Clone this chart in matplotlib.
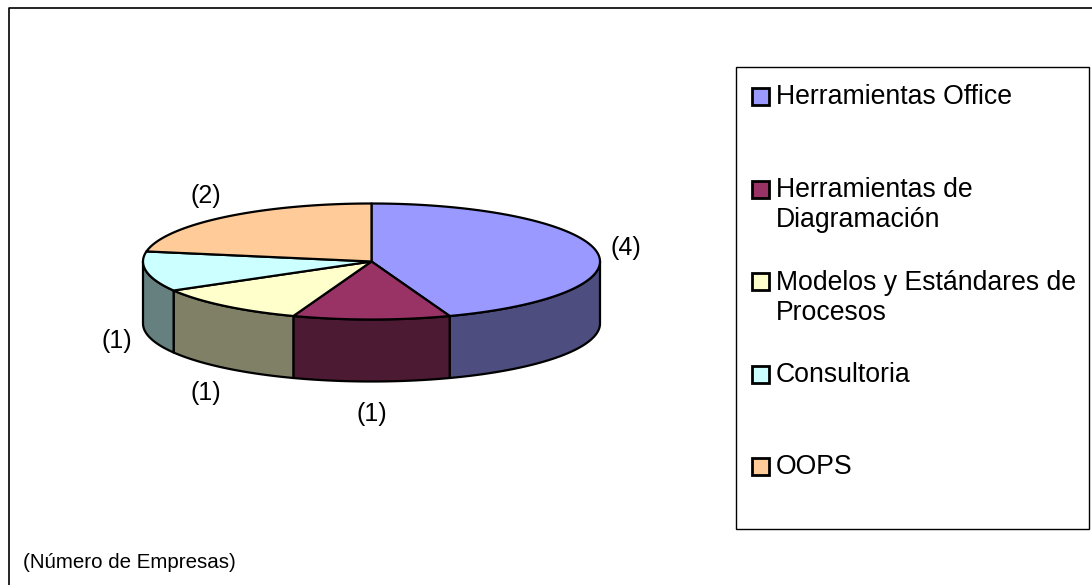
import numpy as np
import matplotlib
matplotlib.use('Agg')
import matplotlib.pyplot as plt
from matplotlib.patches import Polygon, Rectangle

# Chart data
categories = ['Herramientas Office',
              'Herramientas de\nDiagramación',
              'Modelos y Estándares de\nProcesos',
              'Consultoria',
              'OOPS']
values = [4, 1, 1, 1, 2]
top_colors = ['#9999FF', '#993366', '#FFFFCC', '#CCFFFF', '#FFCC99']
value_labels = ['(%d)' % v for v in values]
note = '(Número de Empresas)'

plt.rcParams['font.family'] = ['Liberation Sans', 'DejaVu Sans']

# Figure in pixel coordinates
fig = plt.figure(figsize=(10.92, 5.85), dpi=100)
ax = fig.add_axes([0, 0, 1, 1])
ax.set_xlim(0, 1092)
ax.set_ylim(585, 0)
ax.axis('off')

# Outer chart frame (runs off the right and bottom)
ax.plot([8.5, 8.5, 1092], [585, 7.5, 7.5], color='black', lw=1.2)

# Pie geometry (ellipse centre, semi-axes, thickness)
cx, cy, a, b, depth = 371.5, 261.5, 228.5, 58.0, 62.0


def ell(t):
    t = np.radians(t)
    return cx + a*np.cos(t), cy - b*np.sin(t)


def darker(c, f=0.5):
    rgb = np.array(matplotlib.colors.to_rgb(c))
    return tuple(rgb*f)


# Slice boundaries, starting at 12 o'clock and running clockwise
bounds = 90 - 360*np.concatenate([[0], np.cumsum(values)])/sum(values)

# Side walls (only the front half is visible)
for i in range(len(values)):
    lo, hi = bounds[i+1], bounds[i]
    s0, s1 = max(lo, -180), min(hi, 0)
    if s1 <= s0:
        continue
    t = np.linspace(s0, s1, 80)
    x, y = ell(t)
    pts = np.vstack([np.column_stack([x, y]),
                     np.column_stack([x[::-1], y[::-1] + depth])])
    ax.add_patch(Polygon(pts, closed=True, facecolor=darker(top_colors[i]),
                         edgecolor='black', lw=1.6, joinstyle='round'))

# Top faces
for i in range(len(values)):
    lo, hi = bounds[i+1], bounds[i]
    t = np.linspace(lo, hi, 120)
    x, y = ell(t)
    pts = np.vstack([[cx, cy], np.column_stack([x, y])])
    ax.add_patch(Polygon(pts, closed=True, facecolor=top_colors[i],
                         edgecolor='black', lw=1.6, joinstyle='round'))

# Value labels outside the slices
for i in range(len(values)):
    mid = np.radians((bounds[i] + bounds[i+1])/2)
    lx = cx + (a + 30)*np.cos(mid)
    ly = cy - (b + 30)*np.sin(mid) + 2
    if np.sin(mid) < 0:
        ly += depth
    ax.text(lx, ly, value_labels[i], fontsize=18, ha='center', va='center')

# Legend box
ax.add_patch(Rectangle((736, 67), 353, 462, facecolor='white',
                       edgecolor='black', lw=1))
for i, name in enumerate(categories):
    y = 96.5 + i*92.5
    ax.add_patch(Rectangle((752, y - 8.5), 17, 17, facecolor=top_colors[i],
                           edgecolor='black', lw=2))
    ax.text(776, y - 12, name, fontsize=19.2, ha='left', va='top',
            linespacing=1.2)

ax.text(23, 563, note, fontsize=14.8, ha='left', va='center')

fig.savefig('out.png', dpi=100)
